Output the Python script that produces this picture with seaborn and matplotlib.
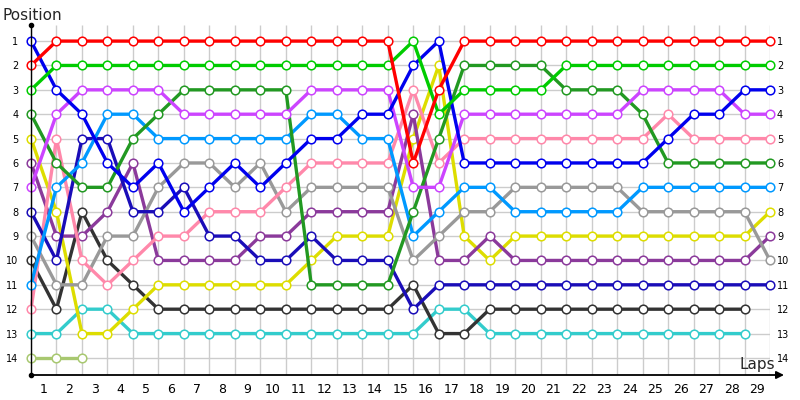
import numpy as np
import pandas as pd
import matplotlib
matplotlib.use('Agg')
import matplotlib.pyplot as plt
import seaborn as sns

# lap 0 = start grid, then laps 1..29
laps = list(range(30))
lap_labels = [str(i) for i in range(1, 30)]
positions = list(range(1, 15))

red = [2, 1, 1, 1, 1, 1, 1, 1, 1, 1, 1, 1, 1, 1, 1, 6, 3, 1, 1, 1, 1, 1, 1, 1, 1, 1, 1, 1, 1, 1]
green = [3, 2, 2, 2, 2, 2, 2, 2, 2, 2, 2, 2, 2, 2, 2, 1, 4, 3, 3, 3, 3, 2, 2, 2, 2, 2, 2, 2, 2, 2]
forest = [4, 6, 7, 7, 5, 4, 3, 3, 3, 3, 3, 11, 11, 11, 11, 8, 5, 2, 2, 2, 2, 3, 3, 3, 4, 6, 6, 6, 6, 6]
violet = [7, 4, 3, 3, 3, 3, 4, 4, 4, 4, 4, 3, 3, 3, 3, 7, 7, 4, 4, 4, 4, 4, 4, 4, 3, 3, 3, 3, 4, 4]
light_blue = [11, 7, 6, 4, 4, 5, 5, 5, 5, 5, 5, 4, 4, 5, 5, 9, 8, 7, 7, 8, 8, 8, 8, 8, 7, 7, 7, 7, 7, 7]
blue = [1, 3, 4, 6, 7, 6, 8, 7, 6, 7, 6, 5, 5, 4, 4, 2, 1, 6, 6, 6, 6, 6, 6, 6, 6, 5, 4, 4, 3, 3]
navy = [8, 10, 5, 5, 8, 8, 7, 9, 9, 10, 10, 9, 10, 10, 10, 12, 11, 11, 11, 11, 11, 11, 11, 11, 11, 11, 11, 11, 11, 11]
pink = [12, 5, 10, 11, 10, 9, 9, 8, 8, 8, 7, 6, 6, 6, 6, 3, 6, 5, 5, 5, 5, 5, 5, 5, 5, 4, 5, 5, 5, 5]
gray = [9, 11, 11, 9, 9, 7, 6, 6, 7, 6, 8, 7, 7, 7, 7, 10, 9, 8, 8, 7, 7, 7, 7, 7, 8, 8, 8, 8, 8, 10]
magenta = [6, 9, 9, 8, 6, 10, 10, 10, 10, 9, 9, 8, 8, 8, 8, 4, 10, 10, 9, 10, 10, 10, 10, 10, 10, 10, 10, 10, 10, 9]
yellow = [5, 8, 13, 13, 12, 11, 11, 11, 11, 11, 11, 10, 9, 9, 9, 5, 2, 9, 10, 9, 9, 9, 9, 9, 9, 9, 9, 9, 9, 8]
dark_gray = [10, 12, 8, 10, 11, 12, 12, 12, 12, 12, 12, 12, 12, 12, 12, 11, 13, 13, 12, 12, 12, 12, 12, 12, 12, 12, 12, 12, 12, None]
cyan = [13, 13, 12, 12, 13, 13, 13, 13, 13, 13, 13, 13, 13, 13, 13, 13, 12, 12, 13, 13, 13, 13, 13, 13, 13, 13, 13, 13, 13, None]
olive = [14, 14, 14, None, None, None, None, None, None, None, None, None, None, None, None,
         None, None, None, None, None, None, None, None, None, None, None, None, None, None, None]

series = [
    ('olive', '#a8c870', olive),
    ('cyan', '#33cccc', cyan),
    ('dark_gray', '#333333', dark_gray),
    ('yellow', '#dddd00', yellow),
    ('magenta', '#8b3a9b', magenta),
    ('gray', '#999999', gray),
    ('pink', '#ff88aa', pink),
    ('navy', '#1a0db8', navy),
    ('light_blue', '#0099ff', light_blue),
    ('forest', '#229922', forest),
    ('violet', '#cc44ff', violet),
    ('blue', '#0000ee', blue),
    ('green', '#00cc00', green),
    ('red', '#ff0000', red),
]

sns.set_theme(style='white')
plt.rcParams['font.family'] = ['DejaVu Sans']

fig = plt.figure(figsize=(8, 4), dpi=100)
ax = fig.add_axes([31 / 800, 25 / 400, 739 / 800, 350 / 400])

y_top, y_bot = 0.34, 14.7

# grid
ax.vlines(laps, y_bot, y_top, color='#cccccc', lw=1, zorder=0)
ax.hlines(positions, 0, 29, color='#cccccc', lw=1, zorder=0)

for name, color, values in series:
    df = pd.DataFrame({'lap': laps, 'pos': pd.array(values, dtype='Float64')}).dropna()
    df['pos'] = df['pos'].astype(float)
    sns.lineplot(data=df, x='lap', y='pos', color=color, lw=2.4,
                 marker='o', ms=6.2, mfc='white', mec=color, mew=1.1,
                 ax=ax, clip_on=False, sort=False)

ax.set_xlim(0, 29)
ax.set_ylim(y_bot, y_top)
ax.set_xlabel('')
ax.set_ylabel('')

ax.set_xticks(np.array(laps[1:]) - 0.5, lap_labels)
ax.set_yticks(positions, [str(p) for p in positions])
ax.tick_params(axis='x', length=0, pad=6, labelsize=9, colors='black')
ax.tick_params(axis='y', length=0, pad=9, labelsize=7, colors='black')

for side in ['top', 'right', 'bottom']:
    ax.spines[side].set_visible(False)
ax.spines['left'].set_color('black')
ax.spines['left'].set_linewidth(1)

# right hand labels
ax2 = ax.twinx()
ax2.set_ylim(y_bot, y_top)
ax2.set_yticks(positions, [str(p) for p in positions])
ax2.tick_params(axis='y', length=0, pad=5, labelsize=7, colors='black')
for side in ax2.spines:
    ax2.spines[side].set_visible(False)

# x axis with arrow
ax.annotate('', xy=(29.55, y_bot), xytext=(0, y_bot),
            arrowprops=dict(arrowstyle='-|>', color='black', lw=1.3,
                            mutation_scale=11, shrinkA=0, shrinkB=0),
            annotation_clip=False)
ax.plot([0, 0], [y_top, y_bot], 'o', color='black', ms=3, clip_on=False, zorder=5)

fig.text(3 / 800, 1 - 15 / 400, 'Position', fontsize=11, ha='left', va='center')
fig.text(775 / 800, 1 - 364 / 400, 'Laps', fontsize=11, ha='right', va='center')

fig.savefig('out.png', dpi=100)
